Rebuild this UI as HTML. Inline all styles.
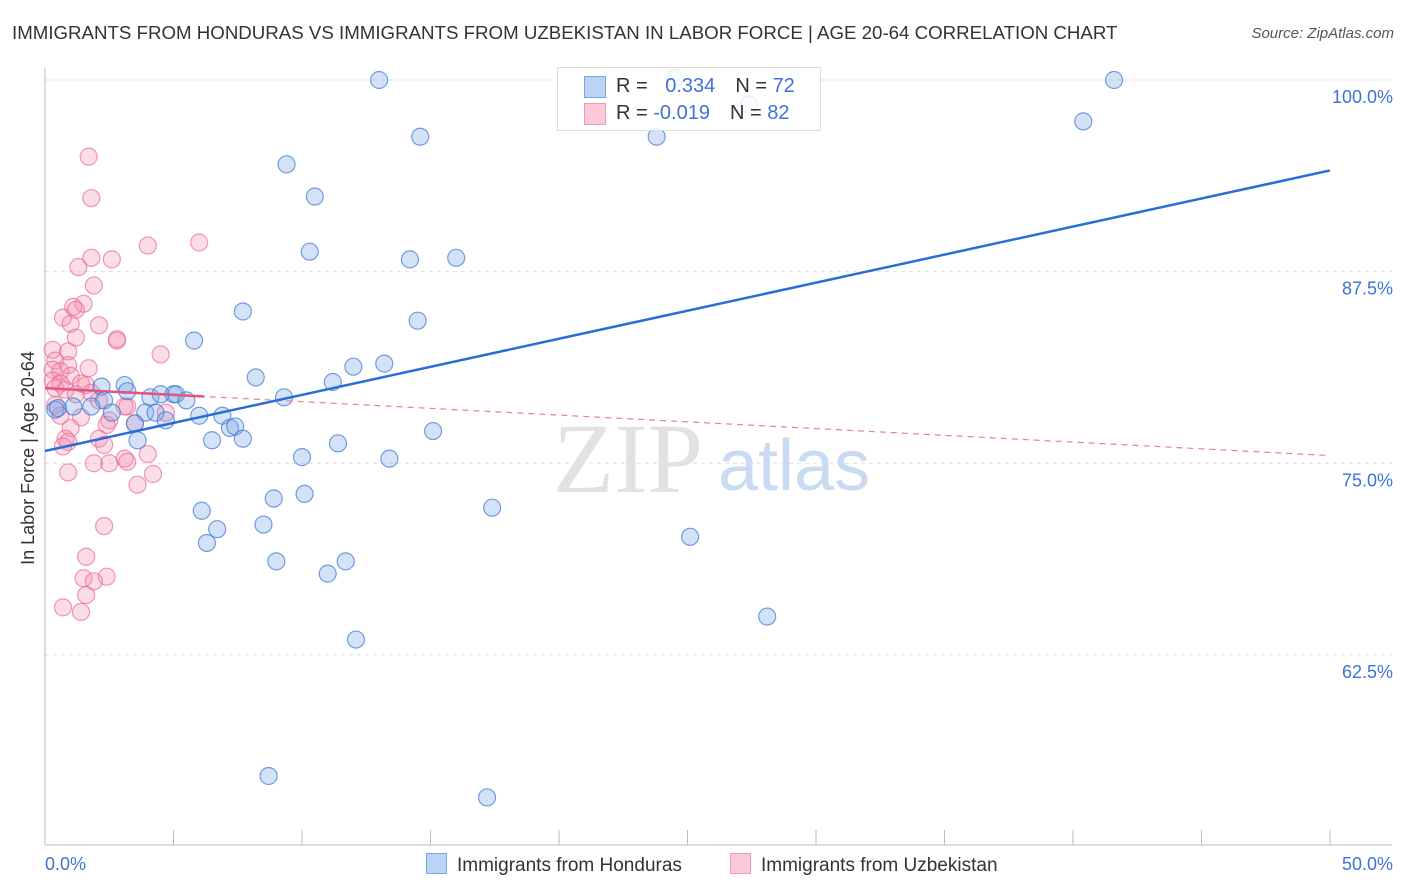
<!DOCTYPE html>
<html><head><meta charset="utf-8"><style>
body{margin:0;background:#fff;font-family:"Liberation Sans",sans-serif;}
#wrap{position:relative;width:1406px;height:892px;overflow:hidden;}
.t{position:absolute;white-space:nowrap;}
</style></head><body>
<div id="wrap">
<div class="t" style="left:12px;top:22px;font-size:18.7px;color:#333;">IMMIGRANTS FROM HONDURAS VS IMMIGRANTS FROM UZBEKISTAN IN LABOR FORCE | AGE 20-64 CORRELATION CHART</div>
<div class="t" style="right:12px;top:25px;font-size:15px;color:#555;font-style:italic;">Source: ZipAtlas.com</div>
<svg id="svg" width="1406" height="892" style="position:absolute;left:0;top:0;"></svg>
</div>
<script>
const yTicks=[100,87.5,75,62.5];
const yTickLabels=["100.0%","87.5%","75.0%","62.5%"];
const xLabels=["0.0%","50.0%"];
const blueX=[13.0,41.6,14.6,23.8,40.4,9.4,10.5,10.3,14.2,16.0,7.7,14.5,5.8,12.0,13.2,8.2,11.2,9.3,2.2,3.1,3.2,4.1,4.5,5.0,5.1,5.5,2.3,1.8,1.1,0.4,0.5,2.6,3.9,4.3,4.7,6.0,6.9,3.5,7.2,7.4,6.5,7.7,3.6,15.1,11.4,10.0,13.4,10.1,8.9,17.4,6.1,8.5,6.7,6.3,25.1,9.0,11.7,11.0,28.1,12.1,8.7,17.2,24.5,27.4];
const blueY=[100.0,100.0,96.3,96.3,97.3,94.5,92.4,88.8,88.3,88.4,84.9,84.3,83.0,81.3,81.5,80.6,80.3,79.3,80.0,80.1,79.7,79.3,79.5,79.5,79.5,79.1,79.1,78.7,78.7,78.5,78.6,78.3,78.3,78.3,77.8,78.1,78.1,77.6,77.3,77.4,76.5,76.6,76.5,77.1,76.3,75.4,75.3,73.0,72.7,72.1,71.9,71.0,70.7,69.8,70.2,68.6,68.6,67.8,65.0,63.5,54.6,53.2,100.1,98.4];
const pinkX=[1.7,1.8,6.0,4.0,1.8,2.6,1.3,1.9,1.5,1.1,1.2,0.7,1.0,2.1,1.2,2.8,2.8,4.5,0.3,0.9,0.4,0.9,1.7,0.3,0.6,1.0,0.3,0.6,1.4,1.6,0.4,0.8,1.2,1.8,2.1,3.2,0.4,0.6,1.4,2.5,1.0,2.4,0.8,2.1,0.9,0.7,2.3,4.0,3.1,3.2,2.5,1.9,4.2,0.9,3.6,2.3,1.6,1.5,2.4,1.9,1.6,0.7,1.4,3.5,3.1,4.7];
const pinkY=[95.0,92.3,89.4,89.2,88.4,88.3,87.8,86.6,85.4,85.2,85.0,84.5,84.1,84.0,83.2,83.0,83.1,82.1,82.4,82.3,81.7,81.4,81.2,81.1,81.0,80.7,80.4,80.2,80.2,80.1,79.9,79.8,79.5,79.6,79.1,78.7,78.8,78.1,78.0,77.8,77.3,77.5,76.6,76.6,76.4,76.1,76.2,75.6,75.3,75.1,75.0,75.0,74.3,74.4,73.6,70.9,68.9,67.5,67.6,67.3,66.4,65.6,65.3,77.6,78.7,78.3];
const blueTrend=[75.8,94.1];
const pinkTrend=[79.9,75.5];
const NS="http://www.w3.org/2000/svg";
const svg=document.getElementById('svg');
const X=v=>45+v*25.7, Y=v=>80+(100-v)*15.33;
function mk(tag,attrs,parent){const e=document.createElementNS(NS,tag);for(const k in attrs)e.setAttribute(k,attrs[k]);(parent||svg).appendChild(e);return e;}
yTicks.forEach((v,i)=>{
 const g=mk('line',{x1:45,x2:1392,y1:Y(v),y2:Y(v),stroke:'#ddd','stroke-dasharray':'4,4'});
 
 
 const t=mk('text',{x:1393,y:Y(v)+23,'text-anchor':'end','font-size':18,fill:'#3f72d6','font-family':'Liberation Sans'});
 t.textContent=yTickLabels[i];
 
 
});
const ya=mk('line',{x1:45,x2:45,y1:68,y2:845,stroke:'#bbb'});


const xa=mk('line',{x1:45,x2:1392,y1:845,y2:845,stroke:'#bbb'});


for(let i=0;i<=10;i++){const tk=mk('line',{x1:X(i*5),x2:X(i*5),y1:830,y2:845,stroke:'#bbb'});
 
 }
[[0,'start',45],[1,'end',1393]].forEach(([i,a,x])=>{const t=mk('text',{x:x,y:870,'text-anchor':a,'font-size':18,fill:'#3f72d6','font-family':'Liberation Sans'});t.textContent=xLabels[i];
 
 });
const yt=mk('text',{x:34,y:458,'text-anchor':'middle','font-size':18,fill:'#333',transform:'rotate(-90 34 458)','font-family':'Liberation Sans'});
yt.textContent='In Labor Force | Age 20-64';


const wm=mk('text',{x:553,y:492,'font-size':100,fill:'#e2e2e2','font-family':'Liberation Serif'});wm.textContent='ZIP';


const wm2=mk('text',{x:718,y:490,'font-size':72,fill:'#c9daf3','font-family':'Liberation Sans'});wm2.textContent='atlas';


pinkX.forEach((x,i)=>{const c=mk('circle',{cx:X(x),cy:Y(pinkY[i]),r:8.5,fill:'rgba(244,143,177,0.3)',stroke:'rgba(232,110,150,0.7)','stroke-width':1.2});
 
 });
blueX.forEach((x,i)=>{const c=mk('circle',{cx:X(x),cy:Y(blueY[i]),r:8.5,fill:'rgba(120,165,230,0.32)',stroke:'rgba(60,120,210,0.7)','stroke-width':1.2});
 
 });
const pd=mk('line',{x1:X(0),y1:Y(pinkTrend[0]),x2:X(50),y2:Y(pinkTrend[1]),stroke:'#e87f9f','stroke-width':1.2,'stroke-dasharray':'6,5'});


const ps=mk('line',{x1:X(0),y1:Y(pinkTrend[0]),x2:X(6.2),y2:Y(pinkTrend[0]+(pinkTrend[1]-pinkTrend[0])*6.2/50),stroke:'#e05585','stroke-width':2.5});


const bl=mk('line',{x1:X(0),y1:Y(blueTrend[0]),x2:X(50),y2:Y(blueTrend[1]),stroke:'#2a6dd6','stroke-width':2.5});


</script>
<div class="t" style="left:557px;top:67px;width:262px;height:62px;border:1px solid #ddd;background:rgba(255,255,255,0.85);font-size:20px;color:#333;">
 <div style="position:absolute;left:26px;top:8px;width:20px;height:20px;background:#bcd3f5;border:1px solid #7aa5e6;"></div>
 <div style="position:absolute;left:58px;top:7px;">R = <span style="color:#3f72d6;margin-left:12px">0.334</span><span style="margin-left:20px">N = </span><span style="color:#3f72d6">72</span></div>
 <div style="position:absolute;left:26px;top:35px;width:20px;height:20px;background:#fbc9d8;border:1px solid #ee9ab5;"></div>
 <div style="position:absolute;left:58px;top:34px;">R = <span style="color:#3f72d6">-0.019</span><span style="margin-left:20px">N = </span><span style="color:#3f72d6">82</span></div>
</div>
<div class="t" style="left:426px;top:853px;font-size:19px;color:#333;"><span style="display:inline-block;width:19px;height:19px;background:#bcd3f5;border:1px solid #7aa5e6;vertical-align:-3px;margin-right:10px"></span>Immigrants from Honduras</div>
<div class="t" style="left:730px;top:853px;font-size:19px;color:#333;"><span style="display:inline-block;width:19px;height:19px;background:#fbc9d8;border:1px solid #ee9ab5;vertical-align:-3px;margin-right:10px"></span>Immigrants from Uzbekistan</div>
</body></html>
